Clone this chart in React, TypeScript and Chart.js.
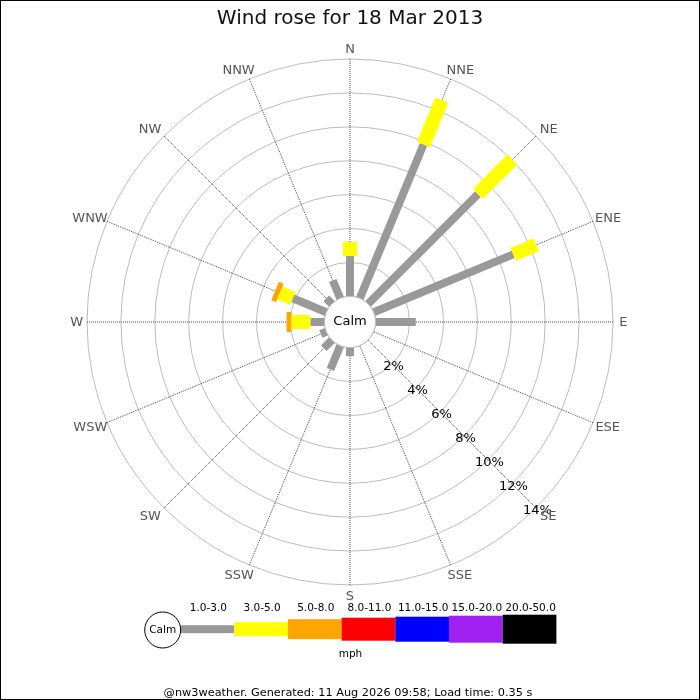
import { useEffect, useRef } from "react";
import { Chart, registerables } from "chart.js";

Chart.register(...registerables);

// ---------- data ----------
const DIRECTIONS = ["N", "NNE", "NE", "ENE", "E", "ESE", "SE", "SSE", "S", "SSW", "SW", "WSW", "W", "WNW", "NW", "NNW"];
const SPEED_BANDS = ["1.0-3.0", "3.0-5.0", "5.0-8.0", "8.0-11.0", "11.0-15.0", "15.0-20.0", "20.0-50.0"];
// percentage of time per direction, one array per speed band (mph)
const PCT_1_3 = [2.38, 9.82, 9.16, 8.91, 2.37, 0, 0, 0, 0.5, 1.52, 0.68, 0.35, 0.83, 2.14, 0.47, 1.14];
const PCT_3_5 = [0.84, 2.83, 2.88, 1.47, 0, 0, 0, 0, 0, 0, 0, 0, 1.13, 0.83, 0, 0];
const PCT_5_8 = [0, 0, 0, 0, 0, 0, 0, 0, 0, 0, 0, 0, 0.27, 0.3, 0, 0];
const PCT_8_11 = [0, 0, 0, 0, 0, 0, 0, 0, 0, 0, 0, 0, 0, 0, 0, 0];
const PCT_11_15 = [0, 0, 0, 0, 0, 0, 0, 0, 0, 0, 0, 0, 0, 0, 0, 0];
const PCT_15_20 = [0, 0, 0, 0, 0, 0, 0, 0, 0, 0, 0, 0, 0, 0, 0, 0];
const PCT_20_50 = [0, 0, 0, 0, 0, 0, 0, 0, 0, 0, 0, 0, 0, 0, 0, 0];
const RING_TICKS = [0, 2, 4, 6, 8, 10, 12, 14];
const RING_LABELS = ["2%", "4%", "6%", "8%", "10%", "12%", "14%"];
const TITLE = "Wind rose for 18 Mar 2013";
const UNIT = "mph";
const FOOTER = "@nw3weather. Generated: 11 Aug 2026 09:58; Load time: 0.35 s";

// ---------- styles / layout ----------
const SERIES = [PCT_1_3, PCT_3_5, PCT_5_8, PCT_8_11, PCT_11_15, PCT_15_20, PCT_20_50];
const BAND_COLORS = ["#999999", "#ffff00", "#ffa500", "#ff0000", "#0000ff", "#a020f0", "#000000"];
const BAND_WIDTHS = [8, 14, 20, 23, 25, 27, 29];
const FONT = "DejaVu Sans";
const ROSE_CX = 350;
const ROSE_CY = 322;
const ROSE_R = 263;
const CALM_MIN = -1.51; // radial value at the centre (calm circle sits at 0)
const LABEL_DIR_INDEX = 6; // SE
const POINT_LABEL_EXTRA = 10.3; // px beyond the outer ring
const POINT_LABEL_SPREAD = 0.6;

const W = 700;
const H = 700;

const rosePlugin = {
  id: "roseBars",
  afterDatasetsDraw(chart: any) {
    const scale = chart.scales.r;
    const ctx = chart.ctx as CanvasRenderingContext2D;
    ctx.save();
    ctx.lineCap = "butt";
    DIRECTIONS.forEach((_d, i) => {
      let base = 0;
      chart.data.datasets.forEach((ds: any, k: number) => {
        const v = ds.data[i];
        if (!v) return;
        const p0 = scale.getPointPosition(i, scale.getDistanceFromCenterForValue(base));
        const p1 = scale.getPointPosition(i, scale.getDistanceFromCenterForValue(base + v));
        ctx.strokeStyle = BAND_COLORS[k];
        ctx.lineWidth = BAND_WIDTHS[k];
        ctx.beginPath();
        ctx.moveTo(p0.x, p0.y);
        ctx.lineTo(p1.x, p1.y);
        ctx.stroke();
        base += v;
      });
    });
    // calm circle
    const r0 = scale.getDistanceFromCenterForValue(0);
    ctx.beginPath();
    ctx.arc(scale.xCenter, scale.yCenter, r0, 0, Math.PI * 2);
    ctx.fillStyle = "#ffffff";
    ctx.fill();
    ctx.lineWidth = 1;
    ctx.strokeStyle = "#bbbbbb";
    ctx.stroke();
    ctx.fillStyle = "#000000";
    ctx.font = `13px "${FONT}"`;
    ctx.textAlign = "center";
    ctx.textBaseline = "middle";
    ctx.fillText("Calm", scale.xCenter, scale.yCenter);
    // ring labels
    RING_LABELS.forEach((lab, j) => {
      const p = scale.getPointPosition(LABEL_DIR_INDEX, scale.getDistanceFromCenterForValue(RING_TICKS[j + 1]) + 2);
      ctx.fillText(lab, p.x, p.y + 1);
    });
    // direction labels
    ctx.fillStyle = "#555555";
    const outer = scale.getDistanceFromCenterForValue(scale.max);
    (chart.data.labels as string[]).forEach((lab, i) => {
      const a = scale.getIndexAngle(i);
      const w = ctx.measureText(lab).width;
      const p = scale.getPointPosition(i, outer + POINT_LABEL_EXTRA);
      const dx = Math.sin(a) * Math.abs(Math.cos(a)) * w * POINT_LABEL_SPREAD;
      ctx.fillText(lab, p.x + dx, p.y + 1);
    });
    ctx.restore();
  },
  afterDraw(chart: any) {
    const ctx = chart.ctx as CanvasRenderingContext2D;
    ctx.save();
    // legend
    const cy = 629.2;
    const calmX = 162.7;
    const calmR = 18;
    const x0 = 180.5;
    const bw = 53.7;
    SPEED_BANDS.forEach((lab, k) => {
      const h = BAND_WIDTHS[k];
      ctx.fillStyle = BAND_COLORS[k];
      ctx.fillRect(x0 + k * bw, cy - h / 2, bw, h);
      ctx.fillStyle = "#000000";
      ctx.font = `10.5px "${FONT}"`;
      ctx.textAlign = "center";
      ctx.textBaseline = "alphabetic";
      ctx.fillText(lab, x0 + k * bw + bw / 2 + 1, 610.7);
    });
    ctx.beginPath();
    ctx.arc(calmX, 630, calmR, 0, Math.PI * 2);
    ctx.fillStyle = "#ffffff";
    ctx.fill();
    ctx.lineWidth = 1;
    ctx.strokeStyle = "#000000";
    ctx.stroke();
    ctx.fillStyle = "#000000";
    ctx.font = `10.5px "${FONT}"`;
    ctx.textAlign = "center";
    ctx.textBaseline = "middle";
    ctx.fillText("Calm", calmX, 630);
    ctx.fillText(UNIT, 350.5, 654);
    ctx.font = `11.3px "${FONT}"`;
    ctx.textBaseline = "alphabetic";
    ctx.fillText(FOOTER, 348, 695.5);
    // frame
    ctx.strokeStyle = "#000000";
    ctx.lineWidth = 1;
    ctx.strokeRect(0.5, 0.5, W - 1, H - 1);
    ctx.restore();
  },
};

export default function App() {
  const ref = useRef<HTMLCanvasElement | null>(null);
  useEffect(() => {
    if (!ref.current) return;
    const chart = new Chart(ref.current, {
      type: "radar",
      data: {
        labels: DIRECTIONS,
        datasets: SERIES.map((s, k) => ({
          label: SPEED_BANDS[k],
          data: s,
          backgroundColor: BAND_COLORS[k],
          borderColor: BAND_COLORS[k],
          showLine: false,
          pointRadius: 0,
          pointHoverRadius: 0,
          borderWidth: 0,
          fill: false,
        })),
      },
      options: {
        responsive: false,
        animation: false,
        devicePixelRatio: 1,
        events: [],
        layout: { padding: { top: 0, bottom: 80, left: 0, right: 0 } },
        plugins: {
          legend: { display: false },
          tooltip: { enabled: false },
          title: {
            display: true,
            text: TITLE,
            color: "#111111",
            font: { family: FONT, size: 20, weight: "normal" },
            padding: { top: 7, bottom: 4 },
          },
        },
        scales: {
          r: {
            min: CALM_MIN,
            max: 14,
            startAngle: 0,
            ticks: { display: false },
            grid: { display: true, circular: true, color: "#bbbbbb", lineWidth: 1 },
            angleLines: { display: true, color: "#444444", lineWidth: 1, borderDash: [1, 1] },
            pointLabels: {
              display: false,
              font: { family: FONT, size: 13 },
            },
            afterSetDimensions: (scale: any) => {
              scale.xCenter = ROSE_CX;
              scale.yCenter = ROSE_CY;
              scale.drawingArea = ROSE_R;
            },
            afterBuildTicks: (scale: any) => {
              scale.ticks = [CALM_MIN, ...RING_TICKS].map((v) => ({ value: v }));
            },
          } as any,
        },
      } as any,
      plugins: [rosePlugin],
    });
    return () => chart.destroy();
  }, []);
  return (
    <div style={{ position: "fixed", left: 0, top: 0, width: W, height: H, background: "#ffffff" }}>
      <canvas ref={ref} width={W} height={H} style={{ display: "block", width: W, height: H }} />
    </div>
  );
}
